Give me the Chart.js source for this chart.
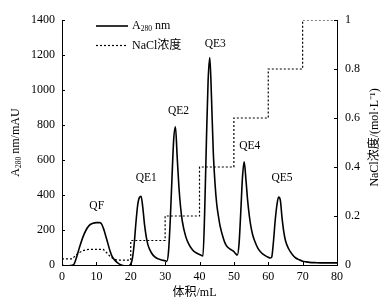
<!DOCTYPE html>
<html><head><meta charset="utf-8">
<script src="https://cdn.jsdelivr.net/npm/chart.js@4.4.0/dist/chart.umd.min.js"></script>
<style>html,body{margin:0;padding:0;background:#fff}#wrap{width:392px;height:303px;position:relative}</style>
</head><body><div id="wrap"><canvas id="c" width="392" height="303"></canvas></div>
<script>
// ---- data ----
const volumeA280 = [0,1,2,3,3.5,4,5,6,7,8,9,10,11,11.5,12,12.5,13,13.5,14,14.5,15,16,17,18,19,19.5,20,20.5,21,21.5,22,22.5,23,23.5,24,24.5,25,26,27,28,29,30,30.5,31,31.5,32,32.5,33,33.5,34,34.5,35,36,37,38,39,40,40.5,41,41.5,42,42.5,43,43.5,44,44.5,45,45.5,46,47,47.5,48,49,50,50.5,51,51.5,52,52.5,53,53.5,54,54.5,55,55.5,56,57,58,59,60,60.5,61,61.5,62,62.5,63,63.5,64,64.5,65,66,67,68,69,70,71,72,74,76,78,80];
const a280Values = [-2,-4,-4,-2,5,30,95,155,200,228,238,242,242,235,212,182,147,112,78,52,36,15,2,-4,-6,-4,5,40,120,240,340,385,392,330,232,162,115,70,46,35,29,24,21,80,260,500,720,790,620,450,330,250,162,115,86,70,60,55,52,300,700,1050,1185,950,650,470,350,280,222,148,122,106,90,76,65,57,120,300,500,590,490,370,280,215,170,140,95,70,55,44,40,45,130,250,340,388,372,272,192,140,90,60,40,30,22,18,15,13,12,12,12];
const volumeNaCl = [0,3,4,5,6,7,8,12,13,14,15,16,19.6,20,20,30,30,40,40,50,50,60,60,70,70,80];
const naclValues = [0.025,0.025,0.04,0.05,0.058,0.062,0.064,0.064,0.05,0.035,0.025,0.02,0.02,0.02,0.1,0.1,0.2,0.2,0.4,0.4,0.6,0.6,0.8,0.8,1.0,1.0];
const xTicks = [0,10,20,30,40,50,60,70,80];
const leftTicks = [0,200,400,600,800,1000,1200,1400];
const leftTickLabels = ['0','200','400','600','800','1000','1200','1400'];
const rightTicks = [0,0.2,0.4,0.6,0.8,1];
const rightTickLabels = ['0','0.2','0.4','0.6','0.8','1'];
const peakNames = ['QF','QE1','QE2','QE3','QE4','QE5'];
const peakLabelX = [10.1,24.5,33.9,44.6,54.6,64.0];
const peakLabelY = [340,495,880,1264,682,495];
const seriesNames = ['A280 nm','NaCl浓度'];
const xTitle = '体积/mL';
const leftTitleParts = ['A','280',' nm/mAU'];
const rightTitle = 'NaCl浓度/(mol·L⁻¹)';

const SERIF = '"Liberation Serif","Noto Sans CJK SC",serif';
const F = (s) => s + 'px ' + SERIF;

const decor = {
  id: 'decor',
  afterDraw(chart) {
    const ctx = chart.ctx;
    const xs = chart.scales.x, ys = chart.scales.y, yr = chart.scales.y1;
    ctx.save();
    ctx.strokeStyle = '#000'; ctx.fillStyle = '#000'; ctx.lineWidth = 1;
    // inward tick marks
    ctx.beginPath();
    xTicks.forEach(v => { const p = Math.round(xs.getPixelForValue(v)) + 0.5; ctx.moveTo(p, xs.top); ctx.lineTo(p, xs.top - 3); });
    leftTicks.forEach(v => { const p = Math.round(ys.getPixelForValue(v)) + 0.5; ctx.moveTo(ys.right, p); ctx.lineTo(ys.right + 3, p); });
    rightTicks.forEach(v => { const p = Math.round(yr.getPixelForValue(v)) + 0.5; ctx.moveTo(yr.left, p); ctx.lineTo(yr.left - 3, p); });
    ctx.stroke();
    // peak labels
    ctx.font = F(11.5); ctx.textAlign = 'center'; ctx.textBaseline = 'middle';
    peakNames.forEach((n, i) => ctx.fillText(n, xs.getPixelForValue(peakLabelX[i]), ys.getPixelForValue(peakLabelY[i])));
    // legend
    const ds = chart.data.datasets;
    const lx0 = 96, lx1 = 128, tx = 132, ly = [26, 45.5];
    ds.forEach((d, i) => {
      ctx.save();
      ctx.lineWidth = d.borderWidth; ctx.strokeStyle = d.borderColor;
      ctx.setLineDash(d.borderDash || []);
      ctx.beginPath(); ctx.moveTo(lx0, ly[i]); ctx.lineTo(lx1, ly[i]); ctx.stroke();
      ctx.restore();
    });
    ctx.textAlign = 'left'; ctx.textBaseline = 'middle';
    // A280 nm with subscript
    ctx.font = F(12);
    let x = tx;
    ctx.fillText('A', x, ly[0]); x += ctx.measureText('A').width;
    ctx.font = F(7.5); ctx.fillText(seriesNames[0].slice(1, 4), x, ly[0] + 3); x += ctx.measureText(seriesNames[0].slice(1, 4)).width;
    ctx.font = F(12); ctx.fillText(seriesNames[0].slice(4), x, ly[0]);
    ctx.fillText(seriesNames[1], tx, ly[1]);
    // x title
    ctx.textAlign = 'center';
    ctx.font = F(12);
    ctx.fillText(xTitle, (xs.left + xs.right) / 2 - 5, 293);
    // left title (rotated, with subscript)
    ctx.save();
    ctx.translate(16, (ys.top + ys.bottom) / 2);
    ctx.rotate(-Math.PI / 2);
    ctx.textAlign = 'left';
    ctx.font = F(12); const w1 = ctx.measureText(leftTitleParts[0]).width, w3 = ctx.measureText(leftTitleParts[2]).width;
    ctx.font = F(7.5); const w2 = ctx.measureText(leftTitleParts[1]).width;
    let sx = -(w1 + w2 + w3) / 2;
    ctx.font = F(12); ctx.fillText(leftTitleParts[0], sx, 0); sx += w1;
    ctx.font = F(7.5); ctx.fillText(leftTitleParts[1], sx, 3); sx += w2;
    ctx.font = F(12); ctx.fillText(leftTitleParts[2], sx, 0);
    ctx.restore();
    // right title
    ctx.save();
    ctx.translate(375, (yr.top + yr.bottom) / 2 - 5);
    ctx.rotate(-Math.PI / 2);
    ctx.textAlign = 'center';
    ctx.font = F(12);
    ctx.fillText(rightTitle, 0, 0);
    ctx.restore();
    ctx.restore();
  }
};

new Chart(document.getElementById('c'), {
  type: 'line',
  data: {
    datasets: [
      {
        label: seriesNames[0],
        data: volumeA280.map((v, i) => ({ x: v, y: a280Values[i] })),
        borderColor: '#000', borderWidth: 1.6, pointRadius: 0,
        cubicInterpolationMode: 'monotone', fill: false, yAxisID: 'y'
      },
      {
        label: seriesNames[1],
        data: volumeNaCl.map((v, i) => ({ x: v, y: naclValues[i] })),
        borderColor: '#000', borderWidth: 1.2, borderDash: [2, 2], pointRadius: 0,
        tension: 0, fill: false, yAxisID: 'y1'
      }
    ]
  },
  options: {
    responsive: false, animation: false, devicePixelRatio: 1,
    layout: { padding: { top: 20, left: 0, right: 0, bottom: 0 } },
    plugins: { legend: { display: false }, tooltip: { enabled: false } },
    scales: {
      x: {
        type: 'linear', position: 'bottom', min: 0, max: 80,
        afterBuildTicks: s => { s.ticks = xTicks.map(v => ({ value: v })); },
        afterFit: s => { s.height = 38; },
        grid: { display: false, drawTicks: false },
        border: { display: true, color: '#000', width: 1 },
        ticks: { color: '#000', font: { family: SERIF, size: 12 }, padding: 5, maxRotation: 0,
          callback: (v) => String(v) }
      },
      y: {
        type: 'linear', position: 'left', min: 0, max: 1400,
        afterBuildTicks: s => { s.ticks = leftTicks.map(v => ({ value: v })); },
        afterFit: s => { s.width = 62; },
        grid: { display: false, drawTicks: false },
        border: { display: true, color: '#000', width: 1 },
        ticks: { color: '#000', font: { family: SERIF, size: 12 }, padding: 7,
          callback: (v) => leftTickLabels[leftTicks.indexOf(v)] ?? '' }
      },
      y1: {
        type: 'linear', position: 'right', min: 0, max: 1,
        afterBuildTicks: s => { s.ticks = rightTicks.map(v => ({ value: v })); },
        afterFit: s => { s.width = 55; },
        grid: { display: false, drawTicks: false },
        border: { display: true, color: '#000', width: 1 },
        ticks: { color: '#000', font: { family: SERIF, size: 12 }, padding: 8,
          callback: (v) => rightTickLabels[rightTicks.indexOf(v)] ?? '' }
      }
    }
  },
  plugins: [decor]
});
</script>
</body></html>
